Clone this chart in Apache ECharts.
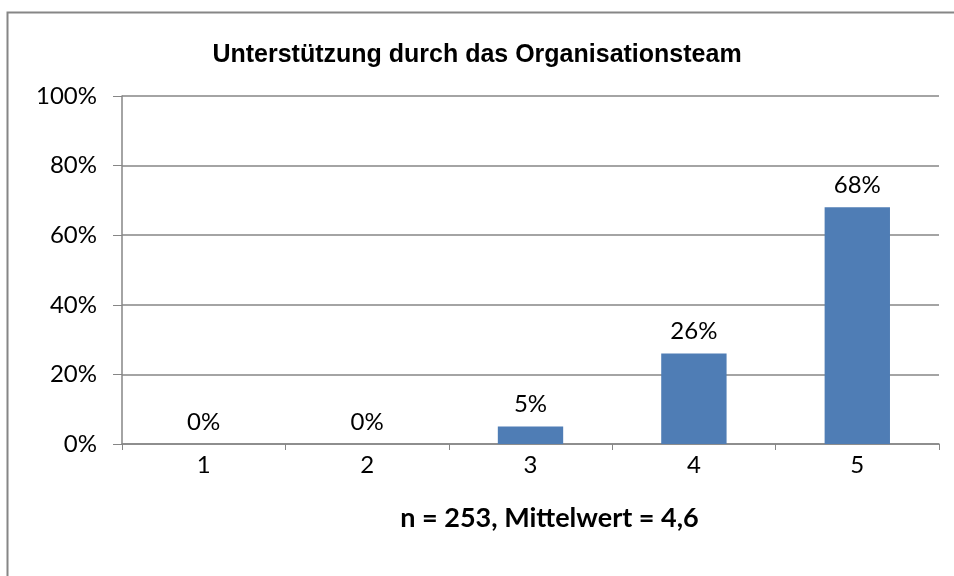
<!DOCTYPE html>
<html>
<head>
<meta charset="utf-8">
<script src="https://cdn.jsdelivr.net/npm/echarts@6/dist/echarts.min.js"></script>
<style>
  html, body { margin: 0; padding: 0; background: #fff; }
  #chart { width: 954px; height: 576px; }
</style>
</head>
<body>
<div id="chart"></div>
<script>
// Daten aus der Vorlage
const categories = ['1', '2', '3', '4', '5'];
const values = [0, 0, 5, 26, 68];
const yTicks = [0, 20, 40, 60, 80, 100];

const chart = echarts.init(document.getElementById('chart'));
const font = 'Lato, "Open Sans", sans-serif';

chart.setOption({
    animation: false,
    title: {
        text: 'Unterstützung durch das Organisationsteam',
        left: 'center',
        top: 38,
        textStyle: {
            fontFamily: '"Liberation Sans", Arial, sans-serif',
            fontWeight: 'bold',
            fontSize: 25,
            color: '#000'
        }
    },
    // Rahmen: nur linke und obere Kante sichtbar, Rest liegt ausserhalb
    graphic: [{
        type: 'rect',
        shape: { x: 7.5, y: 12.5, width: 1200, height: 1000 },
        style: { fill: 'none', stroke: '#868686', lineWidth: 2 },
        silent: true
    }],
    grid: { left: 122, right: 15, top: 96, bottom: 132 },
    xAxis: {
        type: 'category',
        data: categories,
        name: 'n = 253, Mittelwert = 4,6',
        nameLocation: 'middle',
        nameGap: 61,
        // Achsentitel sitzt in der Vorlage etwas rechts der Mitte
        nameTextStyle: { fontFamily: font, fontWeight: 'bold', fontSize: 27, color: '#000', padding: [0, 0, 0, 38] },
        axisLine: { lineStyle: { color: '#868686', width: 1.5 } },
        axisTick: { show: true, length: 6, alignWithLabel: false, lineStyle: { color: '#868686' } },
        axisLabel: { fontFamily: font, fontSize: 24, color: '#000', margin: 9 }
    },
    yAxis: {
        type: 'value',
        min: yTicks[0],
        max: yTicks[yTicks.length - 1],
        interval: yTicks[1] - yTicks[0],
        axisLine: { show: true, lineStyle: { color: '#868686', width: 1.5 } },
        axisTick: { show: true, length: 9, lineStyle: { color: '#868686' } },
        axisLabel: { fontFamily: font, fontSize: 24, color: '#000', margin: 25, formatter: '{value}%' },
        splitLine: { lineStyle: { color: '#868686', width: 1.5 } }
    },
    series: [{
        type: 'bar',
        data: values,
        barCategoryGap: '60%',
        itemStyle: { color: '#4F7DB5' },
        label: {
            show: true,
            position: 'top',
            distance: 10,
            fontFamily: font,
            fontSize: 24,
            color: '#000',
            formatter: p => p.value + '%'
        }
    }]
});
</script>
</body>
</html>
